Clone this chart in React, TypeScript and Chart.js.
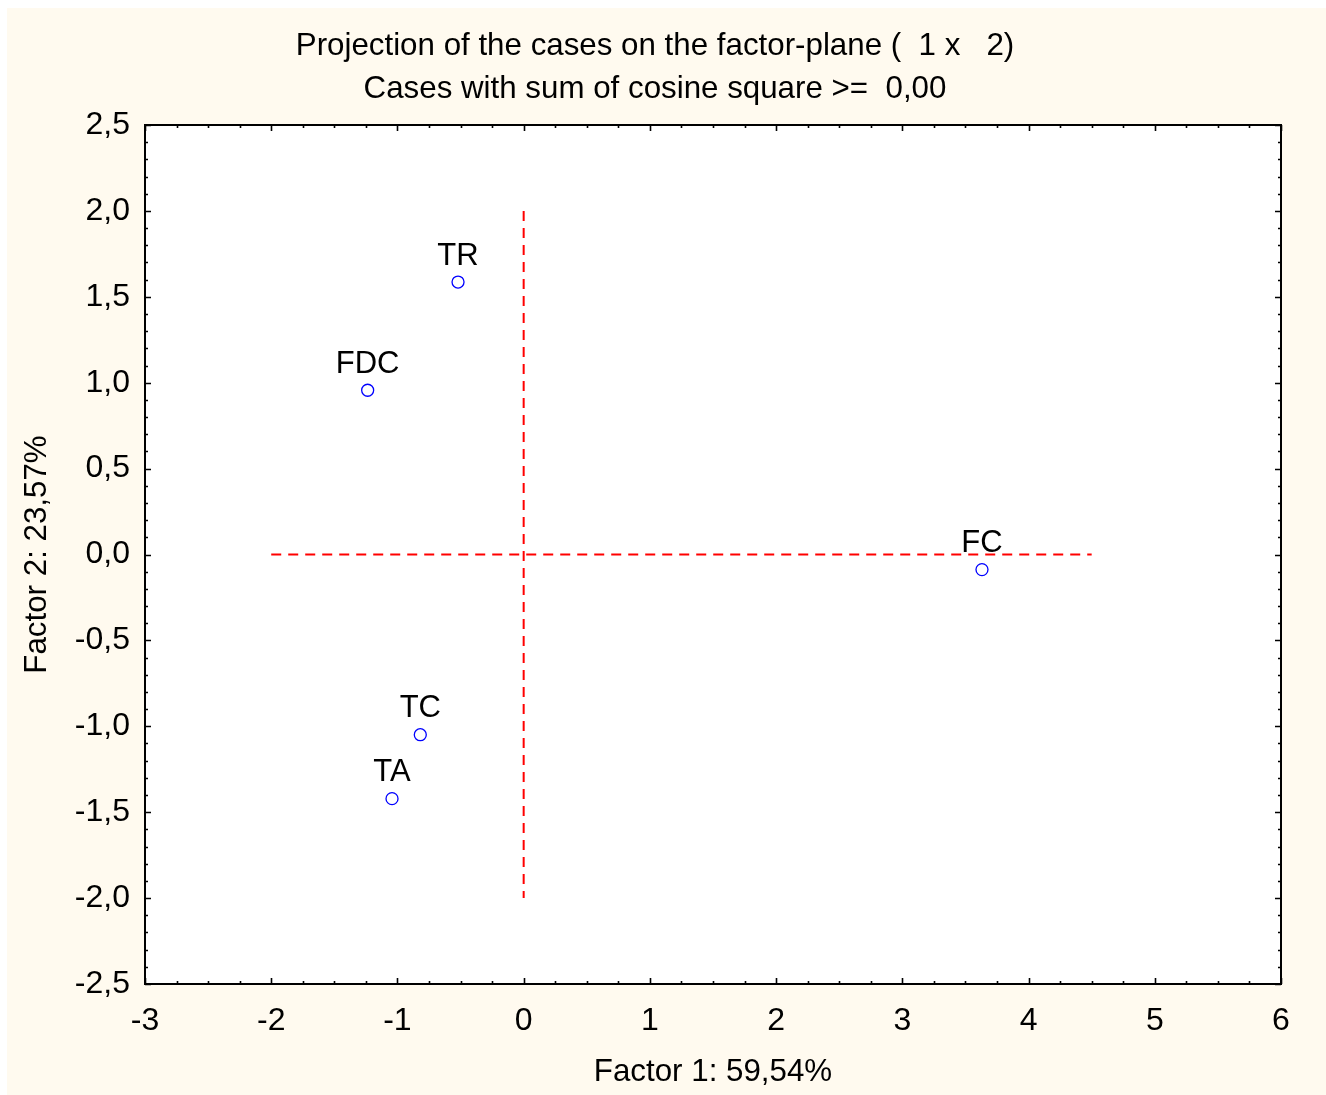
import React, { useEffect, useRef } from "react";
import { Chart, registerables } from "chart.js";

Chart.register(...registerables);

// ---- Data ----
const caseLabels = ["TR", "FDC", "FC", "TC", "TA"];
const factor1 = [-0.52, -1.236, 3.631, -0.819, -1.043];
const factor2 = [1.586, 0.956, -0.088, -1.049, -1.421];
const strayX = [6.329];
const strayY = [-2.787];

const hLineX = [-2, 4.5];
const hLineY = [0, 0];
const vLineX = [0, 0];
const vLineY = [2, -2];

const xMajorTicks = [-3, -2, -1, 0, 1, 2, 3, 4, 5, 6];
const yMajorTicks = [-2.5, -2, -1.5, -1, -0.5, 0, 0.5, 1, 1.5, 2, 2.5];
const xMinorStep = 0.25;
const yMinorStep = 0.1;

const titleLines = [
  "Projection of the cases on the factor-plane (  1 x   2)",
  "Cases with sum of cosine square >=  0,00",
];
const xTitle = "Factor 1: 59,54%";
const yTitle = "Factor 2: 23,57%";

const FONT = "Arial, 'Liberation Sans', sans-serif";
const CREAM = "#fffaef";

const isMajor = (v: number, list: number[]) =>
  list.some((m) => Math.abs(m - v) < 1e-6);

const fmtY = (v: number) => (Math.round(v * 10) / 10).toFixed(1).replace(".", ",");

const framePlugin = {
  id: "frameTicks",
  beforeDraw(chart: any) {
    const { ctx, chartArea: a } = chart;
    ctx.save();
    ctx.fillStyle = CREAM;
    ctx.fillRect(0, 0, chart.width, chart.height);
    ctx.fillStyle = "#ffffff";
    ctx.fillRect(a.left, a.top, a.right - a.left, a.bottom - a.top);
    ctx.restore();
  },
  afterDatasetsDraw(chart: any) {
    const { ctx, chartArea: a } = chart;
    const xs = chart.scales.x;
    const ys = chart.scales.y;
    ctx.save();
    // point labels
    const meta = chart.getDatasetMeta(2);
    ctx.fillStyle = "#000";
    ctx.font = `31px ${FONT}`;
    ctx.textAlign = "center";
    ctx.textBaseline = "middle";
    meta.data.forEach((el: any, i: number) => {
      ctx.fillText(caseLabels[i], el.x, el.y - 26);
    });
    // ticks
    ctx.strokeStyle = "#000";
    ctx.lineWidth = 1.6;
    ctx.beginPath();
    xs.ticks.forEach((t: any) => {
      const px = Math.round(xs.getPixelForValue(t.value)) + 0.5;
      const len = isMajor(t.value, xMajorTicks) ? 6 : 3;
      ctx.moveTo(px, a.bottom);
      ctx.lineTo(px, a.bottom - len);
      ctx.moveTo(px, a.top);
      ctx.lineTo(px, a.top + len);
    });
    ys.ticks.forEach((t: any) => {
      const py = Math.round(ys.getPixelForValue(t.value)) + 0.5;
      const len = isMajor(t.value, yMajorTicks) ? 6 : 3;
      ctx.moveTo(a.left, py);
      ctx.lineTo(a.left + len, py);
      ctx.moveTo(a.right, py);
      ctx.lineTo(a.right - len, py);
    });
    ctx.stroke();
    // frame
    ctx.lineWidth = 2;
    ctx.strokeRect(a.left, a.top, a.right - a.left, a.bottom - a.top);
    ctx.restore();
  },
};

function buildTicks(min: number, max: number, step: number) {
  const out: { value: number }[] = [];
  const n = Math.round((max - min) / step);
  for (let i = 0; i <= n; i++) out.push({ value: Math.round((min + i * step) * 1000) / 1000 });
  return out;
}

export default function App() {
  const ref = useRef<HTMLCanvasElement>(null);
  useEffect(() => {
    if (!ref.current) return;
    const dash = [10, 7];
    const chart = new Chart(ref.current, {
      type: "scatter",
      data: {
        datasets: [
          {
            type: "line",
            data: hLineX.map((x, i) => ({ x, y: hLineY[i] })),
            borderColor: "#ff0000",
            borderWidth: 2,
            borderDash: dash,
            pointRadius: 0,
            fill: false,
          } as any,
          {
            type: "line",
            data: vLineX.map((x, i) => ({ x, y: vLineY[i] })),
            borderColor: "#ff0000",
            borderWidth: 2,
            borderDash: dash,
            pointRadius: 0,
            fill: false,
          } as any,
          {
            data: factor1.map((x, i) => ({ x, y: factor2[i] })),
            pointStyle: "circle",
            pointRadius: 6,
            borderColor: "#0000ff",
            borderWidth: 1.3,
            backgroundColor: "rgba(0,0,0,0)",
          },
          {
            data: strayX.map((x, i) => ({ x, y: strayY[i] })),
            pointStyle: "circle",
            pointRadius: 6,
            borderColor: "#0000ff",
            borderWidth: 1.3,
            backgroundColor: "rgba(0,0,0,0)",
            clip: false as any,
          },
        ],
      },
      options: {
        animation: false,
        responsive: false,
        layout: { padding: { left: 0, right: 23, top: 0, bottom: 0 } },
        plugins: {
          legend: { display: false },
          tooltip: { enabled: false },
          title: {
            display: true,
            text: titleLines,
            color: "#000",
            font: { family: FONT, size: 31.3, weight: "normal", lineHeight: 43 / 31.3 },
            padding: { top: 16.5, bottom: 14.5 },
          },
        },
        scales: {
          x: {
            type: "linear",
            min: -3,
            max: 6,
            position: "bottom",
            afterBuildTicks: (s: any) => {
              s.ticks = buildTicks(-3, 6, xMinorStep);
            },
            afterFit: (s: any) => {
              s.height = 111;
            },
            grid: { display: false, drawTicks: false },
            border: { display: false },
            ticks: {
              autoSkip: false,
              maxRotation: 0,
              minRotation: 0,
              color: "#000",
              padding: 18,
              font: { family: FONT, size: 32 },
              callback: (v: any) => (isMajor(Number(v), xMajorTicks) ? String(Math.round(Number(v))) : ""),
            },
            title: {
              display: true,
              text: xTitle,
              color: "#000",
              font: { family: FONT, size: 31.3 },
              padding: { top: 0, bottom: 4 },
            },
          },
          y: {
            type: "linear",
            min: -2.5,
            max: 2.5,
            position: "left",
            afterBuildTicks: (s: any) => {
              s.ticks = buildTicks(-2.5, 2.5, yMinorStep);
            },
            afterFit: (s: any) => {
              s.width = 138;
            },
            grid: { display: false, drawTicks: false },
            border: { display: false },
            ticks: {
              autoSkip: false,
              color: "#000",
              padding: 15,
              font: { family: FONT, size: 32 },
              callback: (v: any) => (isMajor(Number(v), yMajorTicks) ? fmtY(Number(v)) : ""),
            },
            title: {
              display: true,
              text: yTitle,
              color: "#000",
              font: { family: FONT, size: 31.3 },
              padding: { top: 12, bottom: 0 },
            },
          },
          y2: {
            type: "linear",
            position: "right",
            min: -2.5,
            max: 2.5,
            display: true,
            grid: { display: false, drawTicks: false },
            border: { display: false },
            ticks: { display: false },
            afterFit: (s: any) => {
              s.width = 22;
            },
          },
        },
      },
      plugins: [framePlugin],
    });
    return () => chart.destroy();
  }, []);

  return (
    <div
      style={{
        position: "fixed",
        left: 7,
        top: 8,
        width: 1319,
        height: 1087,
        background: CREAM,
      }}
    >
      <canvas ref={ref} width={1319} height={1087} style={{ display: "block" }} />
    </div>
  );
}
